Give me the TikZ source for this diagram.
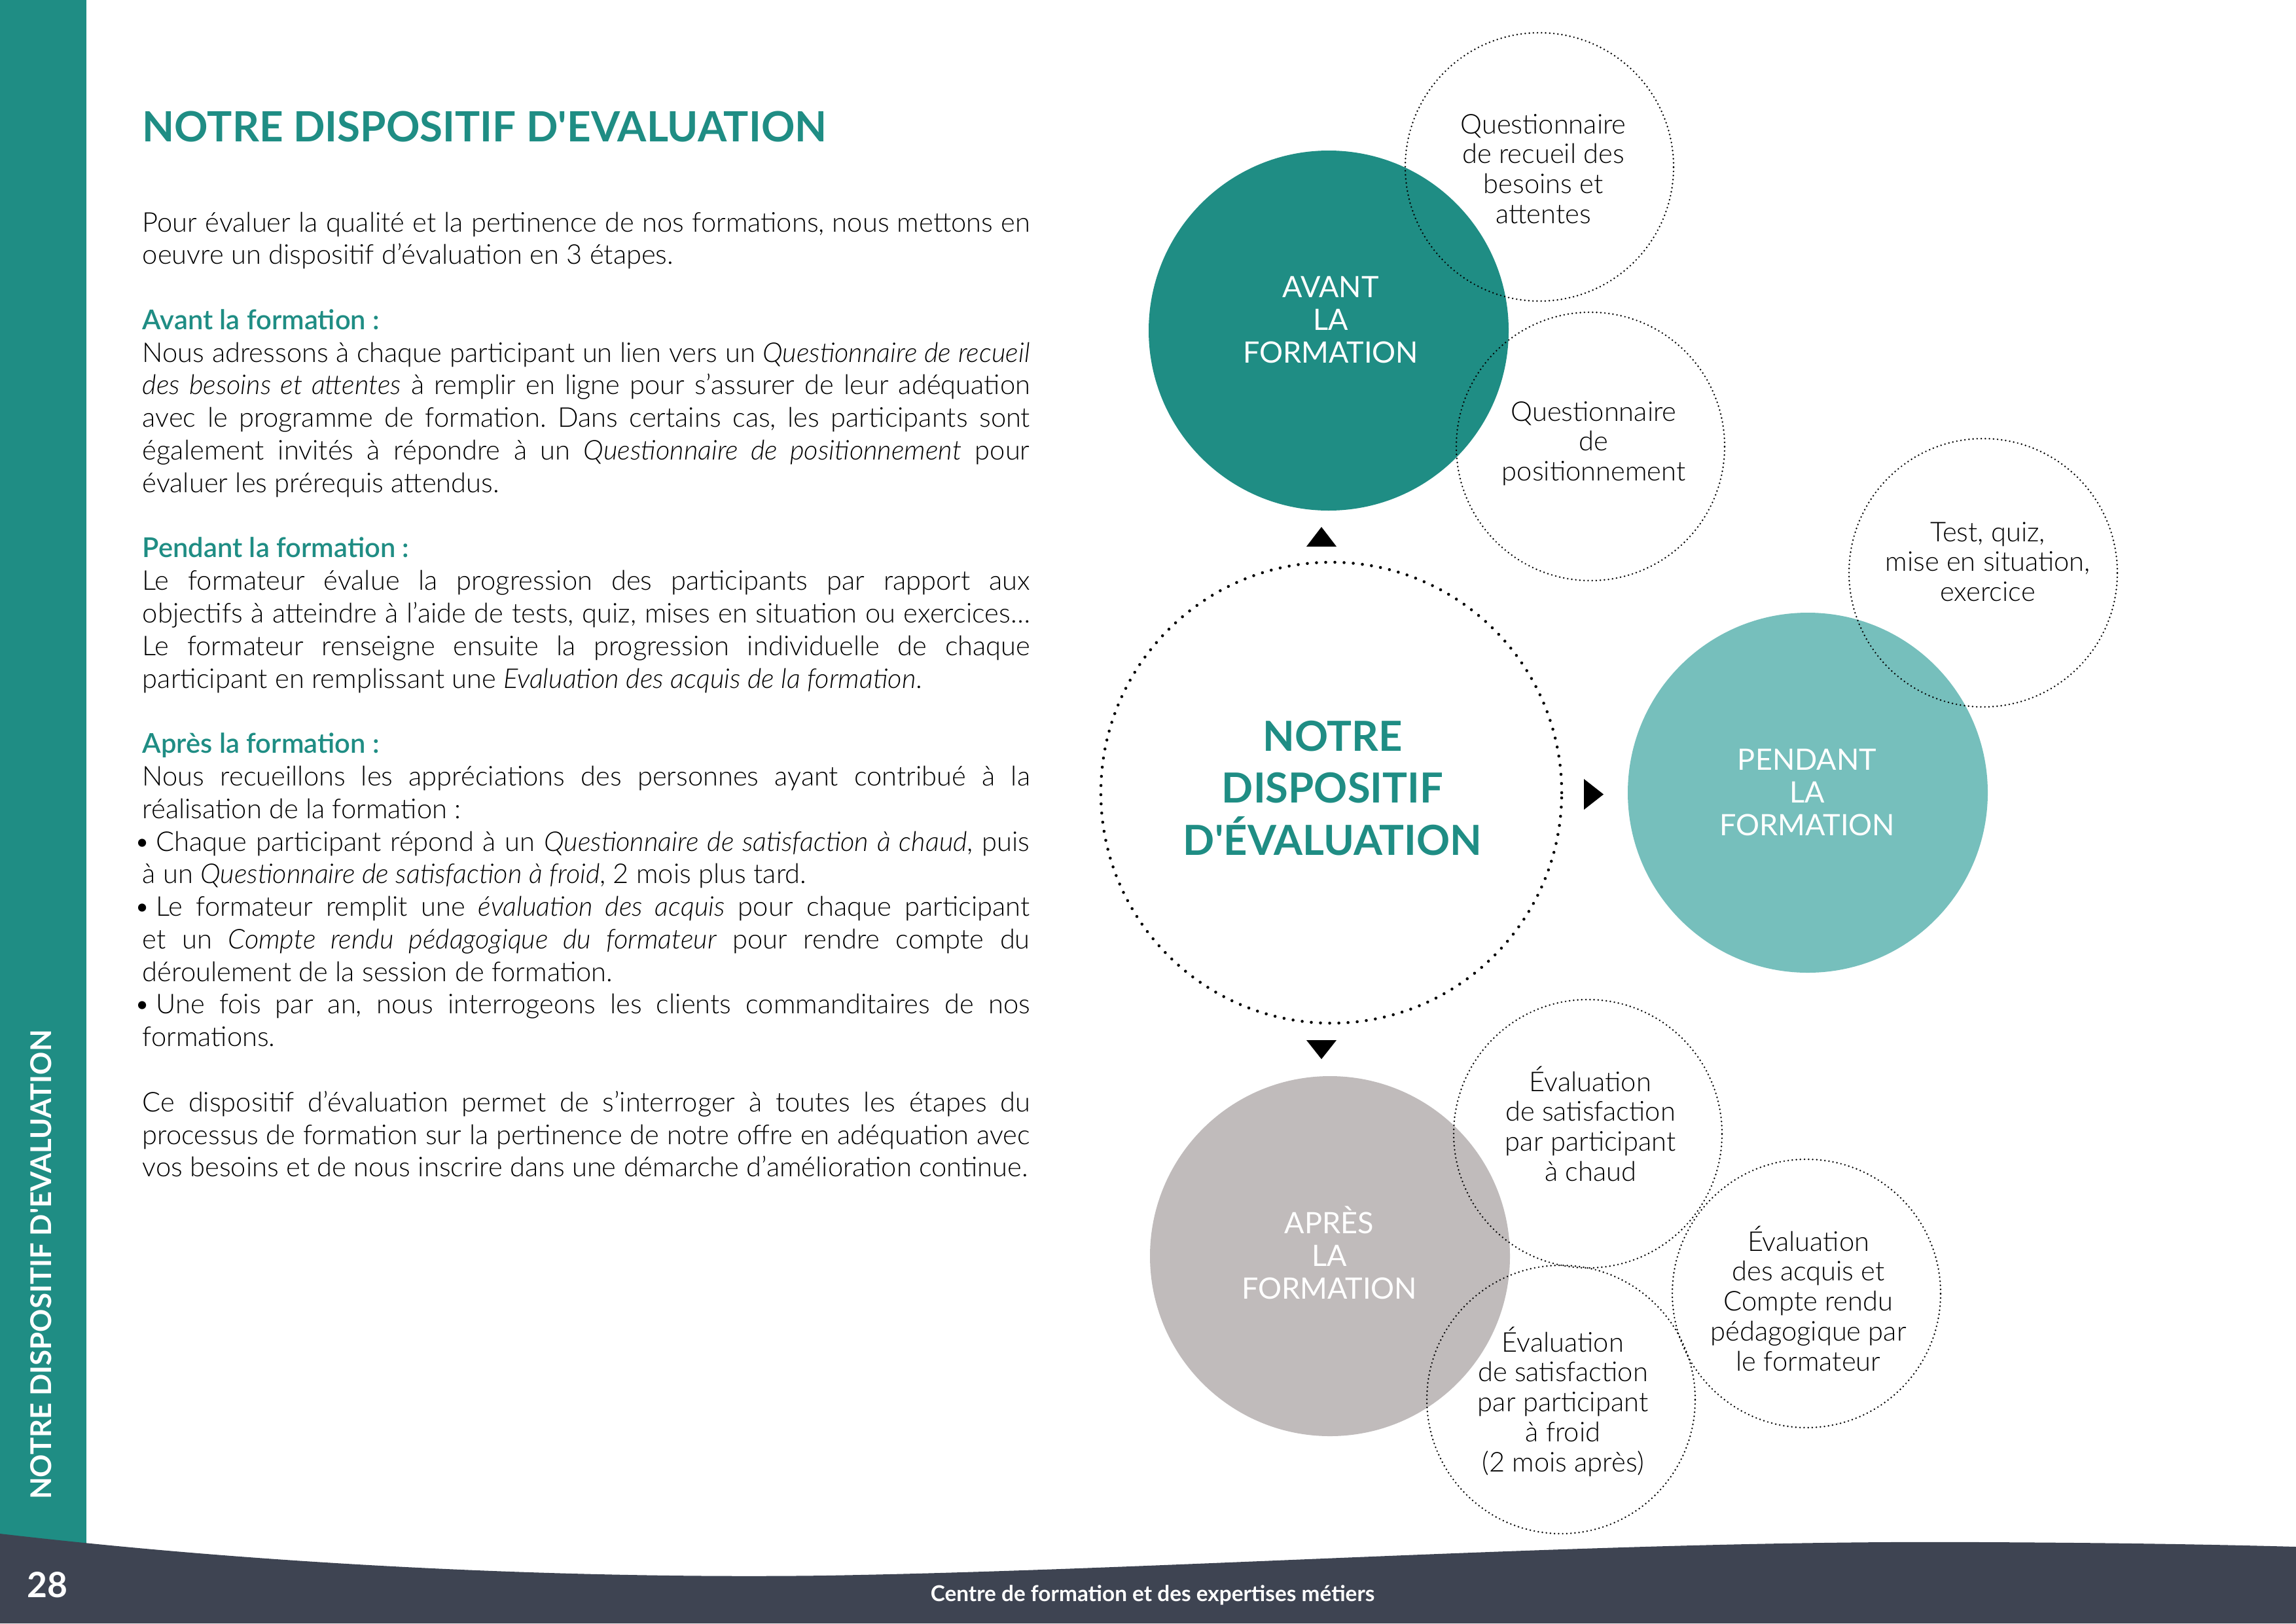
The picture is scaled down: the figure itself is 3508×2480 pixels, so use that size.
\documentclass[tikz,border=0pt]{standalone}
\usepackage{fontspec}
\IfFontExistsTF{Lato Light Italic}{%
  \setmainfont{Lato}[UprightFont=* Light, ItalicFont=* Light Italic, BoldFont=* Bold, BoldItalicFont=* Bold Italic]%
}{%
  \IfFontExistsTF{Lato Light}{%
    \setmainfont{Lato}[UprightFont=* Light, BoldFont=* Bold]%
  }{%
    \setmainfont{Lato}%
  }%
}
\IfFontExistsTF{Lato Semibold}{\newfontfamily\medfont{Lato Semibold}}{%
  \IfFontExistsTF{Lato Medium}{\newfontfamily\medfont{Lato Medium}}{\newfontfamily\medfont{Lato}}}
\newfontfamily\regfont{Lato}
\definecolor{teal1}{HTML}{1F8D84}
\definecolor{teal2}{HTML}{76BFBC}
\definecolor{grey1}{HTML}{C0BBBB}
\definecolor{foot}{HTML}{3E4452}
\newlength\bodyw
\setlength\bodyw{325.4pt}
\newcommand\JL[1]{\hbox to \bodyw{#1}}
\newcommand\LL[1]{\hbox{#1}}
\newcommand\HD[1]{\hbox{\color{teal1}\medfont #1}}
\newcommand\bul{\hskip-3pt•\hskip2.2pt}
\newcommand\lbltext[1]{\parbox[t]{130pt}{\fontsize{10.8}{12}\regfont\centering #1}}
\newcommand\circtext[1]{\parbox[t]{120pt}{\fontsize{10}{11}\selectfont\centering #1}}
\tikzset{
  fillcirc/.style={circle, inner sep=0pt, minimum size=132pt},
  dotcirc/.style={circle, inner sep=0pt, minimum size=98.4pt, draw=black, line width=0.65pt, dash pattern=on 0pt off 1.5pt, line cap=round},
  bigdot/.style={circle, inner sep=0pt, minimum size=169pt, draw=black, line width=1.1pt, dash pattern=on 0pt off 3.37pt, line cap=round},
  lbl/.style={anchor=base, inner sep=0pt, text=white},
  ctxt/.style={anchor=base, inner sep=0pt, text=black},
  marker/.style={fill=black}
}
\begin{document}
\begin{tikzpicture}[x=0.24pt, y=-0.24pt]
\useasboundingbox (0,0) rectangle (3508,2480);
\fill[white] (0,0) rectangle (3508,2480);
% sidebar
\fill[teal1] (0,0) rectangle (132,2420);
% footer band
\fill[foot] (0,2343) .. controls (420,2392) and (880,2412) .. (1260,2407)
  .. controls (1800,2398) and (2450,2352) .. (3030,2356)
  .. controls (3250,2357) and (3400,2360) .. (3508,2363)
  -- (3508,2480) -- (0,2480) -- cycle;
\node[rotate=90, inner sep=0pt, text=white, font=\fontsize{10.5}{13}\selectfont\bfseries] (side) at (63,1932) {NOTRE DISPOSITIF D\textquotesingle EVALUATION};
\node[anchor=base, inner sep=0pt, text=white, font=\fontsize{12.8}{14}\selectfont\bfseries] (pnum) at (72,2440) {28};
\node[anchor=base, inner sep=0pt, text=white, font=\fontsize{8}{9}\selectfont\bfseries] (foottxt) at (1761,2446) {Centre de formation et des expertises métiers};

% title
\node[anchor=base west, inner sep=0pt, text=teal1, font=\fontsize{15.3}{19}\selectfont\bfseries] (title) at (217,216) {NOTRE DISPOSITIF D\textquotesingle EVALUATION};

% body
\node[anchor=base west, inner sep=0pt] (body) at (217,354) {\vtop{\fontsize{10}{11.95}\selectfont\frenchspacing
\JL{Pour évaluer la qualité et la pertinence de nos formations, nous mettons en}
\LL{oeuvre un dispositif d’évaluation en 3 étapes.}
\hbox{}
\HD{Avant la formation :}
\JL{Nous adressons à chaque participant un lien vers un \textit{Questionnaire de recueil}}
\JL{\textit{des besoins et attentes} à remplir en ligne pour s’assurer de leur adéquation}
\JL{avec le programme de formation. Dans certains cas, les participants sont}
\JL{également invités à répondre à un \textit{Questionnaire de positionnement} pour}
\LL{évaluer les prérequis attendus.}
\hbox{}
\HD{Pendant la formation :}
\JL{Le formateur évalue la progression des participants par rapport aux}
\JL{objectifs à atteindre à l’aide de tests, quiz, mises en situation ou exercices…}
\JL{Le formateur renseigne ensuite la progression individuelle de chaque}
\LL{participant en remplissant une \textit{Evaluation des acquis de la formation}.}
\hbox{}
\HD{Après la formation :}
\JL{Nous recueillons les appréciations des personnes ayant contribué à la}
\LL{réalisation de la formation :}
\JL{\bul Chaque participant répond à un \textit{Questionnaire de satisfaction à chaud}, puis}
\LL{à un \textit{Questionnaire de satisfaction à froid}, 2 mois plus tard.}
\JL{\bul Le formateur remplit une \textit{évaluation des acquis} pour chaque participant}
\JL{et un \textit{Compte rendu pédagogique du formateur} pour rendre compte du}
\LL{déroulement de la session de formation.}
\JL{\bul Une fois par an, nous interrogeons les clients commanditaires de nos}
\LL{formations.}
\hbox{}
\JL{Ce dispositif d’évaluation permet de s’interroger à toutes les étapes du}
\JL{processus de formation sur la pertinence de notre offre en adéquation avec}
\LL{vos besoins et de nous inscrire dans une démarche d’amélioration continue.}
}};

% filled circles
\node[fillcirc, fill=teal1] (avant) at (2030,505) {};
\node[fillcirc, fill=teal2] (pendant) at (2762,1211) {};
\node[fillcirc, fill=grey1] (apres) at (2032,1919) {};

% dotted circles
\node[bigdot] (centre) at (2034,1211) {};
\node[dotcirc] (q1) at (2352,255) {};
\node[dotcirc] (q2) at (2430,682) {};
\node[dotcirc] (q3) at (3030,875) {};
\node[dotcirc] (q4) at (2426,1732) {};
\node[dotcirc] (q5) at (2760,1976) {};
\node[dotcirc] (q6) at (2385,2138) {};

% markers
\fill[marker] (2019,805) -- (1996,835) -- (2042,835) -- cycle;
\fill[marker] (1996,1589) -- (2042,1589) -- (2019,1618) -- cycle;
\fill[marker] (2420,1190) -- (2420,1237) -- (2450,1213.5) -- cycle;

% labels in filled circles
\node[lbl] (tavant) at (2033,454) {\lbltext{AVANT\\LA\\FORMATION}};
\node[lbl] (tpendant) at (2761,1176) {\lbltext{PENDANT\\LA\\FORMATION}};
\node[lbl] (tapres) at (2031,1884) {\lbltext{APRÈS\\LA\\FORMATION}};

% central text
\node[anchor=base, inner sep=0pt, text=teal1] (tcentre) at (2036,1147) {\parbox[t]{220pt}{\fontsize{15.2}{19.1}\selectfont\bfseries\centering NOTRE\\DISPOSITIF\\D\textquotesingle ÉVALUATION}};

% texts in dotted circles
\node[ctxt] (tq1) at (2358,204) {\circtext{Questionnaire\\de recueil des\\besoins et\\attentes}};
\node[ctxt] (tq2) at (2435,643) {\circtext{Questionnaire\\de\\positionnement}};
\node[ctxt] (tq3) at (3037,827) {\circtext{Test, quiz,\\mise en situation,\\exercice}};
\node[ctxt] (tq4) at (2430,1667) {\circtext{Évaluation\\de satisfaction\\par participant\\à chaud}};
\node[ctxt] (tq5) at (2763,1911) {\circtext{Évaluation\\des acquis et\\Compte rendu\\pédagogique par\\le formateur}};
\node[ctxt] (tq6) at (2388,2065) {\circtext{Évaluation\\de satisfaction\\par participant\\à froid\\(2 mois après)}};
\end{tikzpicture}
\end{document}
